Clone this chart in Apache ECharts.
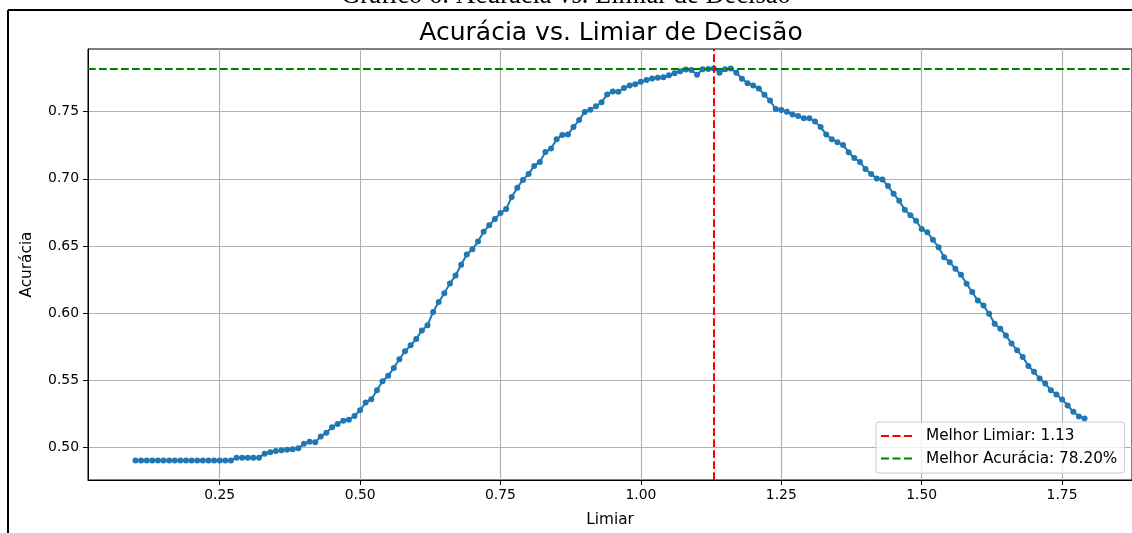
<!DOCTYPE html>
<html>
<head>
<meta charset="utf-8">
<title>Acurácia vs. Limiar de Decisão</title>
<style>
  html, body { margin: 0; padding: 0; background: #fff; }
  #main { width: 1132px; height: 533px; }
</style>
</head>
<body>
<div id="main"></div>
<script src="https://cdn.jsdelivr.net/npm/echarts@6/dist/echarts.min.js"></script>
<script type="text/javascript">
// limiares testados
var limiares = [
  0.10, 0.11, 0.12, 0.13, 0.14, 0.15, 0.16, 0.17, 0.18, 0.19,
  0.20, 0.21, 0.22, 0.23, 0.24, 0.25, 0.26, 0.27, 0.28, 0.29,
  0.30, 0.31, 0.32, 0.33, 0.34, 0.35, 0.36, 0.37, 0.38, 0.39,
  0.40, 0.41, 0.42, 0.43, 0.44, 0.45, 0.46, 0.47, 0.48, 0.49,
  0.50, 0.51, 0.52, 0.53, 0.54, 0.55, 0.56, 0.57, 0.58, 0.59,
  0.60, 0.61, 0.62, 0.63, 0.64, 0.65, 0.66, 0.67, 0.68, 0.69,
  0.70, 0.71, 0.72, 0.73, 0.74, 0.75, 0.76, 0.77, 0.78, 0.79,
  0.80, 0.81, 0.82, 0.83, 0.84, 0.85, 0.86, 0.87, 0.88, 0.89,
  0.90, 0.91, 0.92, 0.93, 0.94, 0.95, 0.96, 0.97, 0.98, 0.99,
  1.00, 1.01, 1.02, 1.03, 1.04, 1.05, 1.06, 1.07, 1.08, 1.09,
  1.10, 1.11, 1.12, 1.13, 1.14, 1.15, 1.16, 1.17, 1.18, 1.19,
  1.20, 1.21, 1.22, 1.23, 1.24, 1.25, 1.26, 1.27, 1.28, 1.29,
  1.30, 1.31, 1.32, 1.33, 1.34, 1.35, 1.36, 1.37, 1.38, 1.39,
  1.40, 1.41, 1.42, 1.43, 1.44, 1.45, 1.46, 1.47, 1.48, 1.49,
  1.50, 1.51, 1.52, 1.53, 1.54, 1.55, 1.56, 1.57, 1.58, 1.59,
  1.60, 1.61, 1.62, 1.63, 1.64, 1.65, 1.66, 1.67, 1.68, 1.69,
  1.70, 1.71, 1.72, 1.73, 1.74, 1.75, 1.76, 1.77, 1.78, 1.79
];

// acuracia para cada limiar
var acuracias = [
  0.4905, 0.4905, 0.4905, 0.4905, 0.4905, 0.4905, 0.4905, 0.4905, 0.4905, 0.4905,
  0.4905, 0.4905, 0.4905, 0.4905, 0.4905, 0.4905, 0.4905, 0.4905, 0.4925, 0.4925,
  0.4925, 0.4925, 0.4925, 0.4955, 0.4965, 0.4975, 0.4980, 0.4985, 0.4988, 0.4995,
  0.5028, 0.5044, 0.5040, 0.5082, 0.5111, 0.5152, 0.5176, 0.5200, 0.5208, 0.5235,
  0.5278, 0.5335, 0.5360, 0.5427, 0.5494, 0.5534, 0.5593, 0.5657, 0.5717, 0.5761,
  0.5808, 0.5872, 0.5910, 0.6009, 0.6083, 0.6148, 0.6222, 0.6280, 0.6360, 0.6437,
  0.6476, 0.6533, 0.6607, 0.6654, 0.6701, 0.6745, 0.6775, 0.6865, 0.6934, 0.6992,
  0.7035, 0.7096, 0.7126, 0.7200, 0.7225, 0.7295, 0.7326, 0.7330, 0.7386, 0.7437,
  0.7498, 0.7514, 0.7540, 0.7570, 0.7628, 0.7650, 0.7648, 0.7675, 0.7695, 0.7703,
  0.7723, 0.7735, 0.7747, 0.7752, 0.7755, 0.7770, 0.7785, 0.7800, 0.7814, 0.7810,
  0.7775, 0.7815, 0.7818, 0.7820, 0.7789, 0.7815, 0.7820, 0.7789, 0.7745, 0.7712,
  0.7694, 0.7672, 0.7625, 0.7582, 0.7520, 0.7512, 0.7500, 0.7478, 0.7467, 0.7450,
  0.7450, 0.7427, 0.7385, 0.7330, 0.7295, 0.7272, 0.7251, 0.7198, 0.7155, 0.7125,
  0.7074, 0.7035, 0.7002, 0.6995, 0.6946, 0.6889, 0.6836, 0.6769, 0.6729, 0.6688,
  0.6627, 0.6602, 0.6547, 0.6491, 0.6417, 0.6380, 0.6330, 0.6286, 0.6219, 0.6157,
  0.6095, 0.6058, 0.5996, 0.5922, 0.5885, 0.5835, 0.5774, 0.5724, 0.5675, 0.5608,
  0.5564, 0.5514, 0.5477, 0.5427, 0.5395, 0.5358, 0.5314, 0.5267, 0.5232, 0.5217
];

var melhorLimiar = 1.13;
var melhorAcuracia = 0.782;

var xTicks = [0.25, 0.50, 0.75, 1.00, 1.25, 1.50, 1.75];
var yTicks = [0.50, 0.55, 0.60, 0.65, 0.70, 0.75];

var fonte = 'DejaVu Sans';

var pontos = [];
for (var i = 0; i < limiares.length; i++) {
  pontos.push([limiares[i], acuracias[i]]);
}

var myChart = echarts.init(document.getElementById('main'), null, { renderer: 'canvas' });

var option = {
  animation: false,
  backgroundColor: '#ffffff',
  title: {
    text: 'Acurácia vs. Limiar de Decisão',
    left: 611,
    top: 21,
    padding: 0,
    textAlign: 'center',
    textStyle: { fontFamily: fonte, fontSize: 25, fontWeight: 'normal', color: '#000' }
  },
  graphic: [
    // legenda do documento (cortada no topo)
    {
      type: 'text', left: 'center', top: -17,
      style: { text: 'Gráfico 6: Acurácia vs. Limiar de Decisão', font: '26.5px "Liberation Serif"', fill: '#000' }
    },
    // moldura da figura
    { type: 'line', shape: { x1: 8, y1: 10, x2: 1132, y2: 10 }, style: { stroke: '#000', lineWidth: 2 } },
    { type: 'line', shape: { x1: 8, y1: 10, x2: 8, y2: 533 }, style: { stroke: '#000', lineWidth: 2 } }
  ],
  legend: {
    orient: 'vertical',
    left: 876,
    top: 422,
    padding: [6.5, 7, 7, 4],
    itemGap: 7.6,
    itemWidth: 32,
    itemHeight: 15,
    backgroundColor: 'rgba(255,255,255,0.8)',
    borderColor: '#cccccc',
    borderWidth: 1,
    borderRadius: 3,
    selectedMode: false,
    itemStyle: { opacity: 0 },
    data: ['Melhor Limiar: 1.13', 'Melhor Acurácia: 78.20%'],
    textStyle: { fontFamily: fonte, fontSize: 15.3, color: '#000', padding: [0, 0, 0, 8] }
  },
  grid: {
    left: 88,
    top: 49,
    width: 1046,
    height: 433,
    show: true,
    borderColor: '#000',
    borderWidth: 1
  },
  xAxis: {
    type: 'value',
    min: 0.0155,
    max: 1.8745,
    name: 'Limiar',
    nameLocation: 'middle',
    nameGap: 33,
    nameTextStyle: { fontFamily: fonte, fontSize: 15.3, color: '#000' },
    axisLine: { show: true, lineStyle: { color: '#000', width: 1 } },
    axisTick: { show: true, length: 5, customValues: xTicks, lineStyle: { color: '#000' } },
    axisLabel: {
      customValues: xTicks,
      margin: 8,
      fontFamily: fonte, fontSize: 13.9, color: '#000',
      formatter: function (v) { return v.toFixed(2); }
    },
    splitLine: { show: true, lineStyle: { color: '#b0b0b0', width: 1.1 } }
  },
  yAxis: {
    type: 'value',
    min: 0.4759,
    max: 0.7966,
    name: 'Acurácia',
    nameLocation: 'middle',
    nameGap: 53,
    nameTextStyle: { fontFamily: fonte, fontSize: 15.3, color: '#000' },
    axisLine: { show: true, lineStyle: { color: '#000', width: 1 } },
    axisTick: { show: true, length: 5, customValues: yTicks, lineStyle: { color: '#000' } },
    axisLabel: {
      customValues: yTicks,
      margin: 9,
      fontFamily: fonte, fontSize: 13.9, color: '#000',
      formatter: function (v) { return v.toFixed(2); }
    },
    splitLine: { show: true, lineStyle: { color: '#b0b0b0', width: 1.1 } }
  },
  series: [
    {
      name: 'Acurácia',
      type: 'line',
      data: pontos,
      symbol: 'circle',
      symbolSize: 6,
      showAllSymbol: true,
      itemStyle: { color: '#1f77b4' },
      lineStyle: { color: '#1f77b4', width: 2 },
      z: 2
    },
    {
      name: 'Melhor Limiar: 1.13',
      type: 'line',
      data: [],
      symbol: 'none',
      itemStyle: { color: '#ff0000' },
      lineStyle: { color: '#ff0000', width: 2, type: [8, 3.5] },
      markLine: {
        silent: true,
        symbol: 'none',
        precision: 4,
        label: { show: false },
        lineStyle: { color: '#ff0000', width: 2, type: [7.7, 3.3] },
        data: [{ xAxis: melhorLimiar }]
      },
      z: 3
    },
    {
      name: 'Melhor Acurácia: 78.20%',
      type: 'line',
      data: [],
      symbol: 'none',
      itemStyle: { color: '#008000' },
      lineStyle: { color: '#008000', width: 2, type: [8, 3.5] },
      markLine: {
        silent: true,
        symbol: 'none',
        precision: 4,
        label: { show: false },
        lineStyle: { color: '#008000', width: 2, type: [7.7, 3.3] },
        data: [{ yAxis: melhorAcuracia }]
      },
      z: 3
    }
  ]
};

myChart.setOption(option);
</script>
</body>
</html>
